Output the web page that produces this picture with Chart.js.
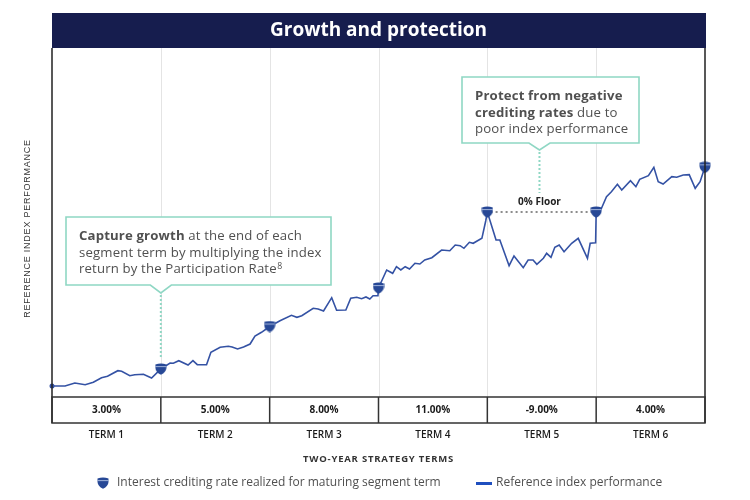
<!DOCTYPE html>
<html>
<head>
<meta charset="utf-8">
<title>Growth and protection</title>
<script src="https://cdn.jsdelivr.net/npm/chart.js@4.4.1/dist/chart.umd.min.js"></script>
<style>
  html, body { margin: 0; padding: 0; background: #fff; }
  #wrap { position: relative; width: 750px; height: 500px; }
</style>
</head>
<body>
<div id="wrap"><canvas id="growthChart" width="750" height="500"></canvas></div>
<script>
// values (x in years, y in index points)
const termLabels = ['TERM 1', 'TERM 2', 'TERM 3', 'TERM 4', 'TERM 5', 'TERM 6'];
const creditRates = [3, 5, 8, 11, -9, 4];

const indexYears = [
  0, 0.24, 0.42, 0.61, 0.76, 0.91, 1.02, 1.21, 1.28, 1.43, 1.52, 1.68, 1.83, 2.0,
  2.17, 2.23, 2.33, 2.50, 2.59, 2.67, 2.84, 2.92, 3.09, 3.24, 3.31, 3.41, 3.52, 3.64, 3.73, 3.85, 4.0,
  4.19, 4.40, 4.50, 4.59, 4.80, 4.89, 4.99, 5.14, 5.23, 5.40, 5.49, 5.60, 5.69, 5.77, 5.84, 5.90, 5.99, 6.0,
  6.15, 6.26, 6.33, 6.41, 6.49, 6.57, 6.67, 6.76, 6.85, 6.98, 7.16, 7.31, 7.41, 7.50, 7.57, 7.67, 7.74, 7.90, 7.97, 8.0,
  8.16, 8.23, 8.40, 8.49, 8.66, 8.75, 8.84, 8.91, 9.03, 9.09, 9.17, 9.24, 9.32, 9.41, 9.55, 9.67, 9.84, 9.89, 9.99, 10.0,
  10.09, 10.19, 10.28, 10.39, 10.47, 10.63, 10.73, 10.80, 10.96, 11.06, 11.14, 11.23, 11.39, 11.48, 11.60, 11.71, 11.82, 11.91, 11.97, 12.0
];
const indexValues = [
  11, 11, 14, 12.3, 14.7, 19.3, 20.7, 26.3, 25.7, 21.3, 22.3, 22.7, 19, 28,
  34, 33.7, 36.3, 32, 36.3, 32.3, 32.3, 44.7, 49.7, 50.7, 50, 48, 50, 53, 61, 64.7, 70.5,
  76.3, 81.7, 79.7, 81.3, 88.7, 88, 86, 99.3, 86.7, 87, 98.7, 99.7, 98.3, 100, 98, 101.3, 101.3, 109,
  127, 123.7, 130.3, 127, 130.3, 128, 133.7, 133, 137, 139.3, 147, 146.3, 152, 151.3, 148.7, 154.7, 153.7, 158.7, 176, 185,
  157, 157, 131.3, 141, 129.3, 137, 137, 132.7, 138.7, 143.7, 139.7, 149.7, 152, 145.3, 153.7, 158.7, 138.7, 153.7, 154.3, 185,
  187.7, 200.3, 205.3, 212.7, 207, 216.3, 210.3, 217.7, 221.3, 229.7, 215.3, 213, 220.3, 219.7, 222, 222.3, 208.7, 215.3, 225.3, 229.7
];

const markerYears = [2, 4, 6, 8, 10, 12];
const markerValues = [28, 70.5, 109, 185, 185, 229.7];

const floorYears = [8.06, 9.93];
const floorValues = [185, 185];

const NAVY = '#161d4e';
const LINE = '#3452a4';
const TEAL = '#8fd7c4';
const INK = '#505050';
const FONT = '"Open Sans", "DejaVu Sans", sans-serif';

function xy(xs, ys) {
  return xs.map((x, i) => ({ x: x, y: ys[i] }));
}

// little shield used for the term-end markers and the legend
function makeShield() {
  const c = document.createElement('canvas');
  c.width = 12; c.height = 12;
  const g = c.getContext('2d');
  g.fillStyle = '#274896';
  g.beginPath();
  g.moveTo(0.5, 1.5);
  g.quadraticCurveTo(6, -0.3, 11.5, 1.5);
  g.lineTo(11.5, 5);
  g.quadraticCurveTo(11.2, 9.2, 6, 11.8);
  g.quadraticCurveTo(0.8, 9.2, 0.5, 5);
  g.closePath();
  g.fill();
  g.fillStyle = 'rgba(190,205,235,0.9)';
  g.fillRect(0.5, 3.2, 11, 0.9);
  return c;
}
const shield = makeShield();

// text runs: [[text, bold], ...]
function drawRuns(ctx, runs, x, y, size) {
  let cx = x;
  runs.forEach(r => {
    if (r[2] === 'sup') {
      ctx.font = '400 ' + (size - 4.5) + 'px ' + FONT;
      ctx.fillText(r[0], cx + 0.5, y - 3.5);
    } else {
      ctx.font = (r[1] ? '700 ' : '400 ') + size + 'px ' + FONT;
      ctx.fillText(r[0], cx, y);
    }
    cx += ctx.measureText(r[0]).width;
  });
}

function callout(ctx, box, tipX, tipY, leaderEnd, lines) {
  const b = box.y + box.h;
  ctx.save();
  ctx.beginPath();
  ctx.moveTo(box.x, box.y);
  ctx.lineTo(box.x + box.w, box.y);
  ctx.lineTo(box.x + box.w, b);
  ctx.lineTo(tipX + 10.5, b);
  ctx.lineTo(tipX, tipY);
  ctx.lineTo(tipX - 10.5, b);
  ctx.lineTo(box.x, b);
  ctx.closePath();
  ctx.fillStyle = '#fff';
  ctx.fill();
  ctx.strokeStyle = TEAL;
  ctx.lineWidth = 1.6;
  ctx.stroke();

  ctx.beginPath();
  ctx.setLineDash([2, 2]);
  ctx.lineWidth = 2;
  ctx.moveTo(tipX, tipY + 2);
  ctx.lineTo(tipX, leaderEnd);
  ctx.stroke();
  ctx.setLineDash([]);

  ctx.fillStyle = INK;
  ctx.textAlign = 'left';
  ctx.textBaseline = 'middle';
  ctx.letterSpacing = '0.15px';
  lines.forEach((runs, i) => drawRuns(ctx, runs, box.x + 13, box.y + 19 + i * 16.8, 13.2));
  ctx.letterSpacing = '0px';
  ctx.restore();
}

const decorations = {
  id: 'decorations',
  beforeDatasetsDraw(chart) {
    const { ctx, chartArea: a, scales: { x } } = chart;
    ctx.save();
    ctx.strokeStyle = '#e4e4e4';
    ctx.lineWidth = 1;
    for (let i = 1; i < termLabels.length; i++) {
      const px = Math.round(x.getPixelForValue(i * 2)) + 0.5;
      ctx.beginPath();
      ctx.moveTo(px, a.top);
      ctx.lineTo(px, a.bottom);
      ctx.stroke();
    }
    ctx.restore();
  },
  afterDraw(chart) {
    const { ctx, chartArea: a, scales: { x, y } } = chart;
    const mid = (a.left + a.right) / 2;
    const tableTop = a.bottom, tableBot = a.bottom + 26;
    ctx.save();

    // title bar
    ctx.fillStyle = NAVY;
    ctx.fillRect(a.left, 13, a.right - a.left + 1, a.top - 13);
    ctx.fillStyle = '#fff';
    ctx.font = '700 19px ' + FONT;
    ctx.textAlign = 'center';
    ctx.textBaseline = 'middle';
    ctx.fillText('Growth and protection', mid, 31);

    // frame sides
    ctx.strokeStyle = '#222';
    ctx.lineWidth = 1.5;
    ctx.beginPath();
    ctx.moveTo(a.left, a.top); ctx.lineTo(a.left, tableBot);
    ctx.moveTo(a.right, a.top); ctx.lineTo(a.right, tableBot);
    ctx.stroke();

    // rate table
    ctx.strokeStyle = '#333';
    ctx.strokeRect(a.left, tableTop, a.right - a.left, tableBot - tableTop);
    ctx.beginPath();
    for (let i = 1; i < termLabels.length; i++) {
      const px = x.getPixelForValue(i * 2);
      ctx.moveTo(px, tableTop); ctx.lineTo(px, tableBot);
    }
    ctx.stroke();

    ctx.fillStyle = '#1a1a1a';
    termLabels.forEach((t, i) => {
      const cx = x.getPixelForValue(i * 2 + 1);
      ctx.font = '700 10px ' + FONT;
      ctx.fillText(creditRates[i].toFixed(2) + '%', cx, tableTop + 13.5);
      ctx.font = '600 10px ' + FONT;
      ctx.fillText(t, cx, 435);
    });

    // axis titles
    ctx.fillStyle = '#333';
    ctx.font = '700 9.5px ' + FONT;
    ctx.letterSpacing = '0.8px';
    ctx.fillText('TWO-YEAR STRATEGY TERMS', mid, 459);
    ctx.save();
    ctx.translate(28, (a.top + a.bottom) / 2 + 6);
    ctx.rotate(-Math.PI / 2);
    ctx.font = '400 9px "Liberation Sans", Arial, sans-serif';
    ctx.letterSpacing = '0.75px';
    ctx.fillText('REFERENCE INDEX PERFORMANCE', 0, 0);
    ctx.restore();
    ctx.letterSpacing = '0px';

    // legend
    ctx.textAlign = 'left';
    ctx.fillStyle = INK;
    ctx.font = '400 12px ' + FONT;
    ctx.drawImage(shield, 97, 477);
    ctx.fillText(chart.data.datasets[0].label, 117, 483);
    ctx.fillStyle = '#1f4fbf';
    ctx.fillRect(476, 482, 16, 3);
    ctx.fillStyle = INK;
    ctx.fillText(chart.data.datasets[1].label, 496, 483);

    // callouts
    const t1x = x.getPixelForValue(markerYears[0]);
    callout(ctx, { x: 66, y: 217, w: 265, h: 68 }, t1x, 293,
      y.getPixelForValue(markerValues[0]) - 11, [
        [['Capture growth', true], [' at the end of each', false]],
        [['segment term by multiplying the index', false]],
        [['return by the Participation Rate', false], ['8', false, 'sup']]
      ]);
    const t5x = x.getPixelForValue((floorYears[0] + floorYears[1]) / 2) - 2;
    callout(ctx, { x: 462, y: 77, w: 177, h: 66 }, t5x, 150, 193, [
      [['Protect from negative', true]],
      [['crediting rates', true], [' due to', false]],
      [['poor index performance', false]]
    ]);

    // floor label
    ctx.fillStyle = '#222';
    ctx.textAlign = 'center';
    ctx.font = '700 10px ' + FONT;
    ctx.fillText(chart.data.datasets[2].label, t5x, y.getPixelForValue(floorValues[0]) - 10);

    ctx.restore();
  }
};

new Chart(document.getElementById('growthChart'), {
  type: 'line',
  data: {
    datasets: [
      {
        label: 'Interest crediting rate realized for maturing segment term',
        data: xy(markerYears, markerValues),
        showLine: false,
        pointStyle: shield,
        pointRadius: 6,
        clip: false
      },
      {
        label: 'Reference index performance',
        data: xy(indexYears, indexValues),
        borderColor: LINE,
        borderWidth: 1.6,
        tension: 0,
        pointRadius: c => (c.dataIndex === 0 ? 2.5 : 0),
        pointBackgroundColor: LINE,
        pointBorderWidth: 0,
        clip: false
      },
      {
        label: '0% Floor',
        data: xy(floorYears, floorValues),
        borderColor: '#8c8c8c',
        borderWidth: 2,
        borderDash: [2, 3],
        pointRadius: 0
      }
    ]
  },
  options: {
    responsive: false,
    animation: false,
    layout: { padding: { left: 52, right: 45, top: 48, bottom: 103 } },
    scales: {
      x: { type: 'linear', min: 0, max: 12, display: false },
      y: { min: 0, max: 349, display: false }
    },
    plugins: { legend: { display: false }, tooltip: { enabled: false } }
  },
  plugins: [decorations]
});
</script>
</body>
</html>
